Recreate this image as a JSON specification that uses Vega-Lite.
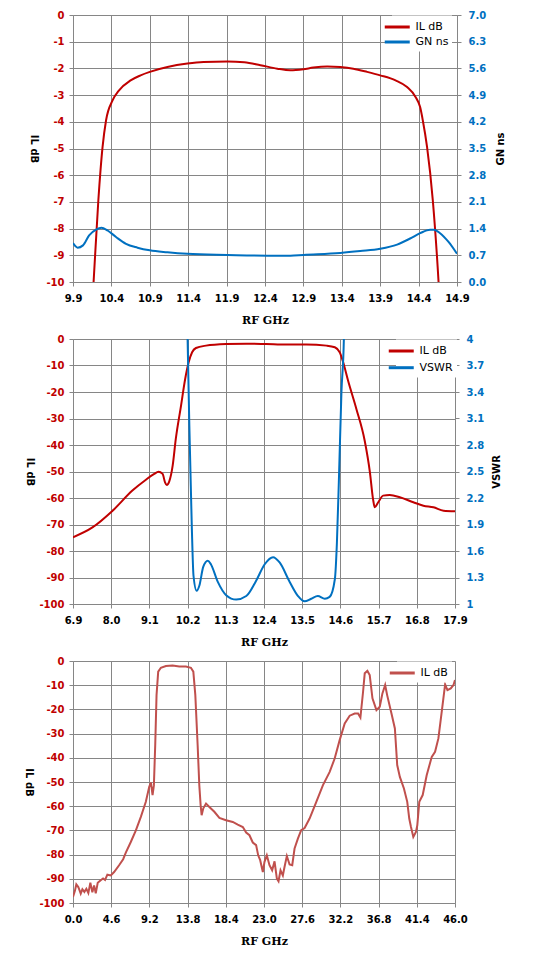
{
  "$schema": "https://vega.github.io/schema/vega-lite/v6.json",
  "background": "white",
  "padding": {"left": 23, "top": 10, "right": 0, "bottom": 0},
  "autosize": {"type": "pad"},
  "bounds": "flush",
  "spacing": 57,
  "config": {
    "view": {"stroke": null},
    "axis": {
      "labelFont": "DejaVu Sans", "labelFontWeight": "bold", "labelFontSize": 10, "labelColor": "black",
      "titleFont": "DejaVu Sans", "titleFontWeight": "bold", "titleFontSize": 10, "titleColor": "black",
      "gridColor": "#868686", "gridOpacity": 1, "gridWidth": 1,
      "domainColor": "#868686", "tickColor": "#868686", "tickSize": 4, "labelPadding": 5,
      "labelOverlap": false, "labelFlush": false,
      "labelExpr": "replace(datum.label, '\u2212', '-')"
    },
    "axisBottom": {"labelPadding": 7, "titleFont": "DejaVu Serif", "titleFontSize": 11, "titleBaseline": "alphabetic", "titleY": 41},
    "axisLeft": {"titleAngle": 90, "titleBaseline": "middle", "titleAlign": "center"},
    "axisRight": {"titleAngle": -90, "titleBaseline": "middle", "titleAlign": "center", "labelPadding": 7, "grid": false},
    "legend": {
      "orient": "none", "direction": "vertical", "title": null,
      "symbolType": "M-3,0H1", "symbolSize": 156.25, "symbolStrokeWidth": 3,
      "labelFont": "DejaVu Sans", "labelFontSize": 11, "labelColor": "black", "labelOffset": 4,
      "padding": 3.5, "fillColor": "white"
    }
  },
  "resolve": {"scale": {"x": "independent", "y": "independent", "color": "independent"}, "legend": {"color": "independent"}},
  "datasets": {
    "c1il": [
      {"f": 10.155, "v": -10.6}, {"f": 10.168, "v": -10}, {"f": 10.23, "v": -6.94}, {"f": 10.285, "v": -4.94},
      {"f": 10.33, "v": -3.95}, {"f": 10.415, "v": -3.2}, {"f": 10.5, "v": -2.82}, {"f": 10.65, "v": -2.45},
      {"f": 10.78, "v": -2.26}, {"f": 10.9, "v": -2.13}, {"f": 11.13, "v": -1.95}, {"f": 11.39, "v": -1.82},
      {"f": 11.6, "v": -1.76}, {"f": 11.91, "v": -1.74}, {"f": 12.13, "v": -1.77}, {"f": 12.34, "v": -1.88},
      {"f": 12.56, "v": -2.01}, {"f": 12.73, "v": -2.07}, {"f": 12.9, "v": -2.03}, {"f": 13.03, "v": -1.97},
      {"f": 13.21, "v": -1.93}, {"f": 13.38, "v": -1.95}, {"f": 13.55, "v": -2.01}, {"f": 13.73, "v": -2.13},
      {"f": 13.9, "v": -2.26}, {"f": 14.1, "v": -2.45}, {"f": 14.25, "v": -2.7}, {"f": 14.36, "v": -3.07},
      {"f": 14.42, "v": -3.45}, {"f": 14.455, "v": -3.95}, {"f": 14.51, "v": -4.94}, {"f": 14.585, "v": -6.94},
      {"f": 14.66, "v": -10}, {"f": 14.672, "v": -10.6}
    ],
    "c1gn": [
      {"f": 9.9, "v": 1.02}, {"f": 9.96, "v": 0.9}, {"f": 10.03, "v": 0.96}, {"f": 10.11, "v": 1.22},
      {"f": 10.2, "v": 1.37}, {"f": 10.27, "v": 1.42}, {"f": 10.35, "v": 1.35}, {"f": 10.46, "v": 1.18},
      {"f": 10.59, "v": 1.0}, {"f": 10.74, "v": 0.9}, {"f": 10.9, "v": 0.83}, {"f": 11.13, "v": 0.78},
      {"f": 11.39, "v": 0.74}, {"f": 11.91, "v": 0.71}, {"f": 12.43, "v": 0.69}, {"f": 12.73, "v": 0.69},
      {"f": 12.9, "v": 0.71}, {"f": 13.38, "v": 0.76}, {"f": 13.64, "v": 0.81}, {"f": 13.9, "v": 0.87},
      {"f": 14.12, "v": 0.98}, {"f": 14.29, "v": 1.14}, {"f": 14.42, "v": 1.28}, {"f": 14.55, "v": 1.37},
      {"f": 14.6, "v": 1.37}, {"f": 14.68, "v": 1.28}, {"f": 14.79, "v": 1.05}, {"f": 14.9, "v": 0.74}
    ],
    "c2il": [
      {"f": 6.9, "v": -74.8}, {"f": 7.46, "v": -71.1}, {"f": 8.04, "v": -64.8}, {"f": 8.61, "v": -57.2},
      {"f": 9.0, "v": -53.1}, {"f": 9.24, "v": -50.9}, {"f": 9.36, "v": -50.1}, {"f": 9.48, "v": -50.9},
      {"f": 9.55, "v": -54.1}, {"f": 9.6, "v": -55.1}, {"f": 9.67, "v": -53.8}, {"f": 9.77, "v": -47.8},
      {"f": 9.86, "v": -37.7}, {"f": 10.01, "v": -25.2}, {"f": 10.13, "v": -15.1}, {"f": 10.23, "v": -8.8},
      {"f": 10.33, "v": -5.0}, {"f": 10.44, "v": -3.4}, {"f": 10.73, "v": -2.5}, {"f": 11.31, "v": -1.9},
      {"f": 11.89, "v": -1.76}, {"f": 12.46, "v": -1.9}, {"f": 13.04, "v": -2.1}, {"f": 13.62, "v": -2.1},
      {"f": 14.2, "v": -2.5}, {"f": 14.44, "v": -3.1}, {"f": 14.58, "v": -5.0}, {"f": 14.68, "v": -8.8},
      {"f": 14.82, "v": -15.7}, {"f": 15.06, "v": -26.4}, {"f": 15.3, "v": -38.4}, {"f": 15.45, "v": -50.3},
      {"f": 15.54, "v": -60.4}, {"f": 15.59, "v": -63.5}, {"f": 15.69, "v": -61.6}, {"f": 15.83, "v": -59.1},
      {"f": 16.02, "v": -58.9}, {"f": 16.31, "v": -59.7}, {"f": 16.7, "v": -61.6}, {"f": 16.99, "v": -62.9},
      {"f": 17.28, "v": -63.5}, {"f": 17.57, "v": -64.8}, {"f": 17.9, "v": -65.0}
    ],
    "c2vswr": [
      {"f": 10.18, "v": 4.4}, {"f": 10.2, "v": 4.0}, {"f": 10.25, "v": 3.02}, {"f": 10.32, "v": 1.89},
      {"f": 10.37, "v": 1.32}, {"f": 10.46, "v": 1.15}, {"f": 10.54, "v": 1.21}, {"f": 10.65, "v": 1.42},
      {"f": 10.78, "v": 1.49}, {"f": 10.87, "v": 1.45}, {"f": 11.07, "v": 1.25}, {"f": 11.31, "v": 1.1},
      {"f": 11.6, "v": 1.05}, {"f": 11.89, "v": 1.09}, {"f": 12.17, "v": 1.26}, {"f": 12.42, "v": 1.45},
      {"f": 12.66, "v": 1.53}, {"f": 12.85, "v": 1.47}, {"f": 13.14, "v": 1.25}, {"f": 13.38, "v": 1.09},
      {"f": 13.57, "v": 1.03}, {"f": 13.76, "v": 1.06}, {"f": 13.95, "v": 1.09}, {"f": 14.15, "v": 1.06},
      {"f": 14.29, "v": 1.08}, {"f": 14.44, "v": 1.28}, {"f": 14.5, "v": 1.7}, {"f": 14.56, "v": 2.45},
      {"f": 14.63, "v": 3.4}, {"f": 14.7, "v": 4.0}, {"f": 14.72, "v": 4.4}
    ],
    "c3il": [
      {"f": 0.0, "v": -97.5}, {"f": 0.24, "v": -94.8}, {"f": 0.4, "v": -92.3}, {"f": 0.64, "v": -93.4},
      {"f": 0.93, "v": -96.1}, {"f": 1.13, "v": -94.3}, {"f": 1.37, "v": -95.4}, {"f": 1.61, "v": -94.1},
      {"f": 1.85, "v": -95.9}, {"f": 2.09, "v": -91.6}, {"f": 2.33, "v": -95.6}, {"f": 2.54, "v": -92.8},
      {"f": 2.74, "v": -96.0}, {"f": 2.98, "v": -91.6}, {"f": 3.34, "v": -90.6}, {"f": 3.62, "v": -89.9},
      {"f": 3.86, "v": -90.5}, {"f": 4.14, "v": -88.3}, {"f": 4.55, "v": -88.6}, {"f": 4.95, "v": -87.2},
      {"f": 5.55, "v": -84.4}, {"f": 6.04, "v": -81.9}, {"f": 6.36, "v": -79.2}, {"f": 6.96, "v": -74.8},
      {"f": 7.57, "v": -70.0}, {"f": 8.17, "v": -64.4}, {"f": 8.77, "v": -58.2}, {"f": 9.18, "v": -52.0},
      {"f": 9.38, "v": -50.2}, {"f": 9.58, "v": -55.4}, {"f": 9.74, "v": -51.4}, {"f": 9.9, "v": -34.8},
      {"f": 10.06, "v": -14.1}, {"f": 10.26, "v": -4.4}, {"f": 10.58, "v": -2.8}, {"f": 11.19, "v": -2.1},
      {"f": 11.99, "v": -1.9}, {"f": 12.8, "v": -2.3}, {"f": 13.6, "v": -2.3}, {"f": 14.2, "v": -2.8},
      {"f": 14.49, "v": -4.4}, {"f": 14.73, "v": -14.1}, {"f": 15.01, "v": -34.8}, {"f": 15.21, "v": -51.4},
      {"f": 15.37, "v": -59.6}, {"f": 15.49, "v": -63.7}, {"f": 15.69, "v": -60.9}, {"f": 16.02, "v": -58.9},
      {"f": 16.42, "v": -60.3}, {"f": 17.02, "v": -62.3}, {"f": 17.63, "v": -64.8}, {"f": 18.43, "v": -65.8},
      {"f": 19.24, "v": -66.5}, {"f": 19.84, "v": -67.6}, {"f": 20.45, "v": -68.6}, {"f": 20.85, "v": -70.9},
      {"f": 21.25, "v": -72.0}, {"f": 21.65, "v": -75.0}, {"f": 22.05, "v": -76.1}, {"f": 22.3, "v": -80.3},
      {"f": 22.54, "v": -82.3}, {"f": 22.86, "v": -87.2}, {"f": 23.06, "v": -83.0}, {"f": 23.34, "v": -80.3},
      {"f": 23.66, "v": -84.4}, {"f": 23.98, "v": -86.5}, {"f": 24.27, "v": -82.8}, {"f": 24.55, "v": -89.9},
      {"f": 24.75, "v": -91.0}, {"f": 24.99, "v": -86.5}, {"f": 25.27, "v": -88.6}, {"f": 25.47, "v": -85.1},
      {"f": 25.75, "v": -80.6}, {"f": 26.08, "v": -84.1}, {"f": 26.4, "v": -84.4}, {"f": 26.68, "v": -77.5},
      {"f": 27.08, "v": -73.4}, {"f": 27.48, "v": -69.9}, {"f": 27.89, "v": -69.0}, {"f": 28.49, "v": -65.1},
      {"f": 29.3, "v": -58.2}, {"f": 30.1, "v": -51.3}, {"f": 30.91, "v": -45.8}, {"f": 31.51, "v": -40.3},
      {"f": 32.11, "v": -32.7}, {"f": 32.72, "v": -25.8}, {"f": 33.32, "v": -22.6}, {"f": 33.92, "v": -21.7},
      {"f": 34.33, "v": -21.7}, {"f": 34.61, "v": -23.4}, {"f": 34.93, "v": -12.7}, {"f": 35.13, "v": -5.1},
      {"f": 35.45, "v": -4.1}, {"f": 35.73, "v": -5.8}, {"f": 36.06, "v": -15.4}, {"f": 36.54, "v": -20.3},
      {"f": 36.94, "v": -18.9}, {"f": 37.26, "v": -13.4}, {"f": 37.59, "v": -9.9}, {"f": 37.83, "v": -14.1},
      {"f": 38.35, "v": -21.7}, {"f": 38.76, "v": -27.9}, {"f": 39.04, "v": -43.0}, {"f": 39.36, "v": -47.9},
      {"f": 39.85, "v": -52.7}, {"f": 40.25, "v": -58.2}, {"f": 40.49, "v": -65.1}, {"f": 40.7, "v": -68.6},
      {"f": 40.98, "v": -72.7}, {"f": 41.3, "v": -70.6}, {"f": 41.46, "v": -67.9}, {"f": 41.7, "v": -58.2},
      {"f": 42.11, "v": -55.4}, {"f": 42.59, "v": -47.2}, {"f": 43.2, "v": -39.6}, {"f": 43.6, "v": -37.5},
      {"f": 44.0, "v": -32.0}, {"f": 44.4, "v": -21.0}, {"f": 44.81, "v": -9.7}, {"f": 45.09, "v": -12.0},
      {"f": 45.49, "v": -11.3}, {"f": 45.82, "v": -9.9}, {"f": 46.0, "v": -7.9}
    ]
  },
  "vconcat": [
    {
      "width": 384, "height": 267,
      "resolve": {"scale": {"y": "independent"}},
      "encoding": {
        "x": {"field": "f", "type": "quantitative", "scale": {"domain": [9.9, 14.9], "nice": false, "zero": false},
          "axis": {"values": [9.9, 10.4, 10.9, 11.4, 11.9, 12.4, 12.9, 13.4, 13.9, 14.4, 14.9], "format": ".1f", "labelOverlap": false, "title": "RF GHz", "titleX": 192}}
      },
      "layer": [
        {
          "data": {"name": "c1il"},
          "mark": {"type": "line", "interpolate": "monotone", "clip": true, "strokeWidth": 2},
          "encoding": {
            "y": {"field": "v", "type": "quantitative", "scale": {"domain": [-10, 0], "nice": false},
              "axis": {"orient": "left", "values": [-10, -9, -8, -7, -6, -5, -4, -3, -2, -1, 0], "format": "d", "labelOverlap": false, "labelColor": "#c00000", "title": "IL dB", "titleX": -40, "titleY": 133.5}},
            "color": {"datum": "IL dB", "type": "nominal", "scale": {"domain": ["IL dB", "GN ns"], "range": ["#c00000", "#0070c0"]},
              "legend": {"legendX": 319, "legendY": 0.5, "rowPadding": 1}}
          }
        },
        {
          "data": {"name": "c1gn"},
          "mark": {"type": "line", "interpolate": "monotone", "clip": true, "strokeWidth": 2},
          "encoding": {
            "y": {"field": "v", "type": "quantitative", "scale": {"domain": [0, 7], "nice": false},
              "axis": {"orient": "right", "values": [0, 0.7, 1.4, 2.1, 2.8, 3.5, 4.2, 4.9, 5.6, 6.3, 7], "format": ".1f", "labelOverlap": false, "labelColor": "#0070c0", "title": "GN ns", "titleX": 43, "titleY": 133.5}},
            "color": {"datum": "GN ns", "type": "nominal"}
          }
        }
      ]
    },
    {
      "width": 382, "height": 265,
      "resolve": {"scale": {"y": "independent"}},
      "encoding": {
        "x": {"field": "f", "type": "quantitative", "scale": {"domain": [6.9, 17.9], "nice": false, "zero": false},
          "axis": {"values": [6.9, 8.0, 9.1, 10.2, 11.3, 12.4, 13.5, 14.6, 15.7, 16.8, 17.9], "format": ".1f", "labelOverlap": false, "title": "RF GHz", "titleX": 191}}
      },
      "layer": [
        {
          "data": {"name": "c2il"},
          "mark": {"type": "line", "interpolate": "monotone", "clip": true, "strokeWidth": 2},
          "encoding": {
            "y": {"field": "v", "type": "quantitative", "scale": {"domain": [-100, 0], "nice": false},
              "axis": {"orient": "left", "values": [-100, -90, -80, -70, -60, -50, -40, -30, -20, -10, 0], "format": "d", "labelOverlap": false, "labelColor": "#c00000", "title": "IL dB", "titleX": -44, "titleY": 132.5}},
            "color": {"datum": "IL dB", "type": "nominal", "scale": {"domain": ["IL dB", "VSWR"], "range": ["#c00000", "#0070c0"]},
              "legend": {"legendX": 323, "legendY": 0.5, "rowPadding": 2.7}}
          }
        },
        {
          "data": {"name": "c2vswr"},
          "mark": {"type": "line", "interpolate": "monotone", "clip": true, "strokeWidth": 2},
          "encoding": {
            "y": {"field": "v", "type": "quantitative", "scale": {"domain": [1, 4], "nice": false, "zero": false},
              "axis": {"orient": "right", "values": [1, 1.3, 1.6, 1.9, 2.2, 2.5, 2.8, 3.1, 3.4, 3.7, 4], "format": ".1~f", "labelOverlap": false, "labelColor": "#0070c0", "title": "VSWR", "titleX": 41, "titleY": 132.5}},
            "color": {"datum": "VSWR", "type": "nominal"}
          }
        }
      ]
    },
    {
      "width": 382, "height": 242,
      "data": {"name": "c3il"},
      "mark": {"type": "line", "clip": true, "strokeWidth": 2},
      "encoding": {
        "x": {"field": "f", "type": "quantitative", "scale": {"domain": [0, 46], "nice": false, "zero": false},
          "axis": {"values": [0, 4.6, 9.2, 13.8, 18.4, 23, 27.6, 32.2, 36.8, 41.4, 46], "format": ".1f", "labelOverlap": false, "title": "RF GHz", "titleX": 191}},
        "y": {"field": "v", "type": "quantitative", "scale": {"domain": [-100, 0], "nice": false},
          "axis": {"orient": "left", "values": [-100, -90, -80, -70, -60, -50, -40, -30, -20, -10, 0], "format": "d", "labelOverlap": false, "labelColor": "#c00000", "title": "IL dB", "titleX": -45, "titleY": 121}},
        "color": {"datum": "IL dB", "type": "nominal", "scale": {"domain": ["IL dB"], "range": ["#c0504d"]},
          "legend": {"legendX": 324, "legendY": 0.5}}
      }
    }
  ]
}
